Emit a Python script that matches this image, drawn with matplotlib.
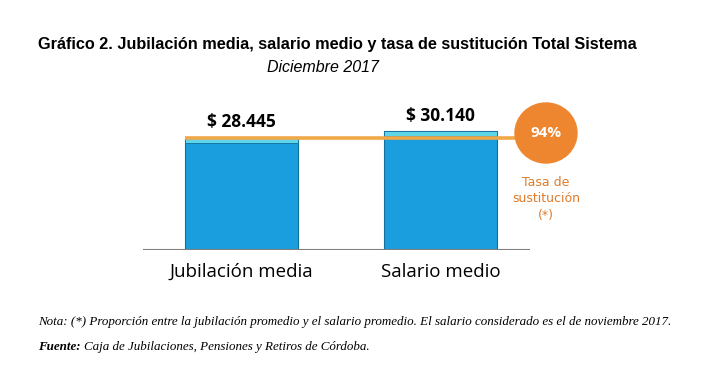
import matplotlib.pyplot as plt
from matplotlib.patches import Ellipse

categorias = ["Jubilación media", "Salario medio"]
valores = [28445, 30140]
etiquetas = ["$ 28.445", "$ 30.140"]
tasa = "94%"

W, H = 715, 388
fig = plt.figure(figsize=(W / 100, H / 100), dpi=100)

def fx(px):
    return px / W

def fy(py):
    return 1 - py / H

# bar axes: baseline at y=250px
ax = fig.add_axes([fx(143), fy(250), fx(530 - 143), (150 / H)])
ax.set_xlim(-0.495, 1.45)
ax.set_ylim(0, 150 * 28445 / 112)
ax.axis("off")

x = range(len(valores))
ax.bar(x, valores, width=0.57, color="#1B9EDD", edgecolor="#146E9C", linewidth=0.8, zorder=2)
strip = 1300
ax.bar(x, [strip] * len(valores), bottom=[v - strip for v in valores], width=0.57,
       color="#5FD5EA", edgecolor="#146E9C", linewidth=0.6, zorder=2)
ax.axhline(0, color="#7f7f7f", lw=1.5, zorder=3)

# linea naranja al nivel de la jubilacion, hasta el circulo
ax.plot([-0.285, 1.4], [valores[0], valores[0]], color="#F0A848", lw=2.6, zorder=4,
        solid_capstyle="butt")

for xi, v, t in zip(x, valores, etiquetas):
    ax.text(xi, v + 1700, t, ha="center", va="bottom", fontsize=12.5, fontweight="bold",
            family="Open Sans", color="black")

for xi, c in zip(x, categorias):
    ax.text(xi, -3200, c, ha="center", va="top", fontsize=13.5, family="Open Sans",
            color="black")

# circulo con la tasa de sustitucion
cax = fig.add_axes([0, 0, 1, 1])
cax.set_xlim(0, W)
cax.set_ylim(H, 0)
cax.axis("off")
cax.add_patch(Ellipse((546, 133), 62, 60, color="#EE8630", zorder=5))
cax.text(546, 133, tasa, ha="center", va="center", fontsize=11, fontweight="bold",
         color="white", family="Open Sans", zorder=6)
cax.text(546, 199, "Tasa de\nsustitución\n(*)", ha="center", va="center", fontsize=9,
         color="#E07B2A", family="DejaVu Sans", linespacing=1.3)

fig.text(fx(38), fy(45), "Gráfico 2. Jubilación media, salario medio y tasa de sustitución Total Sistema",
         fontsize=11.7, ha="left", va="center", family="Liberation Sans", color="black",
         fontweight="bold")
fig.text(fx(323), fy(68), "Diciembre 2017", fontsize=11.5, style="italic", ha="center",
         va="center", family="Liberation Sans")

fig.text(fx(38), fy(322), "Nota: (*) Proporción entre la jubilación promedio y el salario promedio. "
         "El salario considerado es el de noviembre 2017.", fontsize=9.4, style="italic",
         family="Liberation Serif", ha="left", va="center")

t1 = fig.text(fx(38), fy(347), "Fuente:", fontsize=9.4, style="italic", fontweight="bold",
              family="Liberation Serif", ha="left", va="center")
fig.canvas.draw()
bb = t1.get_window_extent()
fig.text(bb.x1 / W + fx(3), fy(347), "Caja de Jubilaciones, Pensiones y Retiros de Córdoba.",
         fontsize=9.4, style="italic", family="Liberation Serif", ha="left", va="center")

fig.savefig("out.png", dpi=100)
